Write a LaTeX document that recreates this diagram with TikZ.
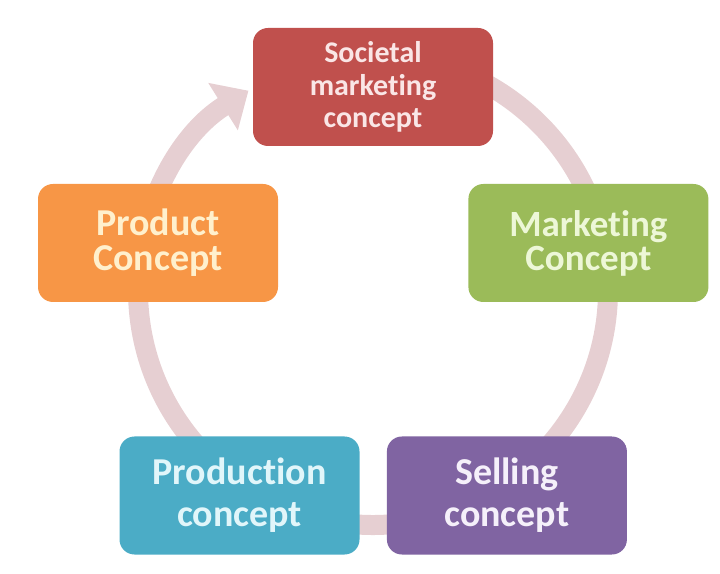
\documentclass[tikz,border=0pt]{standalone}
\usepackage{fontspec}
\setmainfont[Ligatures=NoCommon]{Carlito}
\usetikzlibrary{positioning,arrows.meta}

\definecolor{socred}{RGB}{192,80,77}
\definecolor{prodorange}{RGB}{247,150,70}
\definecolor{mktgreen}{RGB}{155,187,89}
\definecolor{prodnblue}{RGB}{75,172,198}
\definecolor{sellpurple}{RGB}{128,100,162}
\definecolor{cyclepink}{RGB}{230,207,210}

\tikzset{
  concept/.style={rounded corners=15pt, minimum width=240pt, minimum height=118pt,
    inner sep=0pt, align=center},
  cycle arrow/.style={line width=20pt, color=cyclepink,
    -{Triangle[width=54pt,length=30pt]}}
}

\begin{document}
\begin{tikzpicture}[x=1pt, y=1pt]
\useasboundingbox (0,0) rectangle (720,573);

% Cycle behind the boxes
\coordinate (hub) at (373,283);
\draw[cycle arrow] ([shift={(95:235pt)}]hub) arc[start angle=95, end angle=-238, radius=235pt];

% Nodes
\node (societal) [concept, fill=socred, text={rgb,255:red,250;green,230;blue,230},
    font=\fontsize{30}{32.5}\selectfont\bfseries] at (373,486)
    {Societal\\marketing\\concept};
\node (product) [concept, fill=prodorange, text={rgb,255:red,255;green,240;blue,205},
    font=\fontsize{38}{35}\selectfont\bfseries] at (158,330)
    {Product\\Concept};
\node (marketing) [concept, fill=mktgreen, text={rgb,255:red,237;green,247;blue,215},
    font=\fontsize{37}{34}\selectfont\bfseries, right=190pt of product]
    {Marketing\\Concept};
\node (production) [concept, fill=prodnblue, text={rgb,255:red,225;green,246;blue,250},
    font=\fontsize{38}{42}\selectfont\bfseries] at (239.5,77.5)
    {Production\\concept};
\node (selling) [concept, fill=sellpurple, text={rgb,255:red,245;green,240;blue,250},
    font=\fontsize{38}{42}\selectfont\bfseries, right=27pt of production]
    {Selling\\concept};

\end{tikzpicture}
\end{document}
